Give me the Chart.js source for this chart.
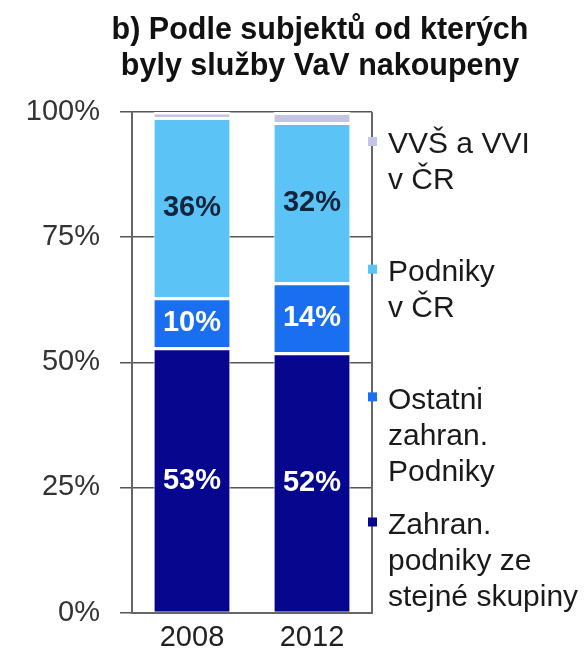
<!DOCTYPE html>
<html>
<head>
<meta charset="utf-8">
<script src="https://cdn.jsdelivr.net/npm/chart.js@4.4.1/dist/chart.umd.min.js"></script>
<style>
  html, body { margin: 0; padding: 0; background: #fff; }
  #wrap { width: 587px; height: 650px; }
</style>
</head>
<body>
<div id="wrap"><canvas id="myChart" width="587" height="650"></canvas></div>
<script>
// data
var years = ["2008", "2012"];
var zahranSkupina = [53, 52];   // Zahran. podniky ze stejne skupiny
var ostatniZahran = [10, 14];   // Ostatni zahran. Podniky
var podnikyCR = [36, 32];       // Podniky v CR
var vvsVvi = [1, 2];            // VVS a VVI v CR

var titleLines = ["b) Podle subjektů od kterých", "byly služby VaV nakoupeny"];
var yTicks = [0, 25, 50, 75, 100];

// legend texts, top to bottom, and the % level where each one sits
var legendTexts = [
  ["VVŠ a VVI", "v ČR"],
  ["Podniky", "v ČR"],
  ["Ostatni", "zahran.", "Podniky"],
  ["Zahran.", "podniky ze", "stejné skupiny"]
];
var legendLevels = [94, 68.5, 43, 18];

var FONT = "'Liberation Sans', Arial, sans-serif";
var navy = "#06068f";
var blue = "#1a6ff0";
var lightBlue = "#5cc3f6";
var lavender = "#c4c4e6";
var legendColors = [lavender, lightBlue, blue, navy];

var overlay = {
  id: "overlay",
  afterDatasetsDraw: function (chart) {
    var ctx = chart.ctx;
    ctx.save();
    ctx.font = "bold 29px " + FONT;
    ctx.textAlign = "center";
    ctx.textBaseline = "middle";
    chart.data.datasets.forEach(function (ds, di) {
      var meta = chart.getDatasetMeta(di);
      meta.data.forEach(function (bar, i) {
        var v = ds.data[i];
        if (v < 5) return;
        ctx.fillStyle = ds.labelColor;
        ctx.fillText(v + "%", bar.x, (bar.y + bar.base) / 2 + 1);
      });
    });
    ctx.restore();
  },
  afterDraw: function (chart) {
    var ctx = chart.ctx;
    var area = chart.chartArea;
    var y = chart.scales.y;
    ctx.save();
    // right frame line
    ctx.strokeStyle = "#666";
    ctx.lineWidth = 2;
    ctx.beginPath();
    ctx.moveTo(area.right, area.top);
    ctx.lineTo(area.right, area.bottom);
    ctx.stroke();

    // title
    ctx.fillStyle = "#111";
    ctx.font = "bold 30.5px " + FONT;
    ctx.textAlign = "center";
    ctx.textBaseline = "middle";
    titleLines.forEach(function (t, k) {
      ctx.fillText(t, 320, 31 + k * 36);
    });

    // legend
    ctx.font = "30px " + FONT;
    ctx.textAlign = "left";
    legendTexts.forEach(function (lines, k) {
      var py = y.getPixelForValue(legendLevels[k]);
      ctx.fillStyle = legendColors[k];
      ctx.fillRect(area.right - 4, py - 5, 9, 9);
      ctx.fillStyle = "#1a1a1a";
      lines.forEach(function (t, j) {
        ctx.fillText(t, area.right + 16, py + 3 + j * 36);
      });
    });
    ctx.restore();
  }
};

var barStyle = {
  borderColor: "#ffffff",
  borderWidth: { top: 3, left: 1, right: 1 },
  borderSkipped: "bottom",
  barPercentage: 0.64,
  categoryPercentage: 1
};

new Chart("myChart", {
  type: "bar",
  data: {
    labels: years,
    datasets: [
      Object.assign({ label: "Zahran. podniky ze stejné skupiny", data: zahranSkupina, backgroundColor: navy, labelColor: "#ffffff" }, barStyle),
      Object.assign({ label: "Ostatni zahran. Podniky", data: ostatniZahran, backgroundColor: blue, labelColor: "#ffffff" }, barStyle),
      Object.assign({ label: "Podniky v ČR", data: podnikyCR, backgroundColor: lightBlue, labelColor: "#14243c" }, barStyle),
      Object.assign({ label: "VVŠ a VVI v ČR", data: vvsVvi, backgroundColor: lavender, labelColor: "#14243c" }, barStyle)
    ]
  },
  options: {
    responsive: false,
    animation: false,
    layout: { padding: { top: 112, right: 215, left: 0, bottom: 0 } },
    plugins: {
      legend: { display: false },
      title: { display: false },
      tooltip: { enabled: false }
    },
    scales: {
      x: {
        stacked: true,
        grid: { display: false },
        border: { color: "#666", width: 2 },
        ticks: { color: "#222", font: { family: FONT, size: 29 }, padding: 0 },
        afterFit: function (s) { s.height = 37; }
      },
      y: {
        stacked: true,
        min: 0,
        max: 100,
        afterBuildTicks: function (s) { s.ticks = yTicks.map(function (v) { return { value: v }; }); },
        afterFit: function (s) { s.width = 132; },
        grid: { color: "#555", lineWidth: 1.5, tickLength: 12 },
        border: { color: "#666", width: 2 },
        ticks: {
          color: "#333",
          padding: 20,
          font: { family: FONT, size: 29 },
          callback: function (v) { return v + "%"; }
        }
      }
    }
  },
  plugins: [overlay]
});
</script>
</body>
</html>
